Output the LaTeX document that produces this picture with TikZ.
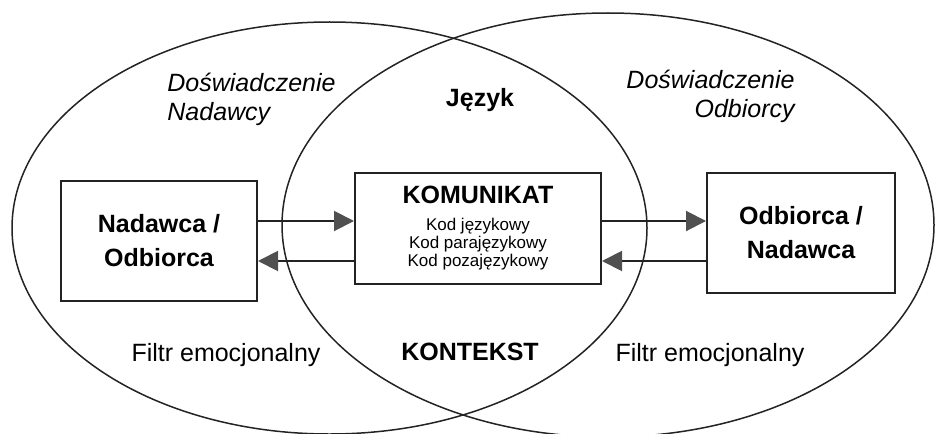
\documentclass[tikz,border=0pt]{standalone}
\usepackage{fontspec}
\setmainfont{Liberation Sans}
\usepackage{xcolor}
\usetikzlibrary{arrows.meta}
\definecolor{inkcol}{RGB}{35,35,35}
\definecolor{tipcol}{RGB}{80,80,80}

\begin{document}
\begin{tikzpicture}[
  x=0.5pt,y=-0.5pt,
  field/.style={draw=inkcol,line width=0.75pt},
  party/.style={rectangle,draw=inkcol,line width=1pt,inner sep=0pt,
                align=center,font=\fontsize{12.5}{17}\selectfont\bfseries},
  msgbox/.style={party,font=\fontsize{8.5}{9}\selectfont\mdseries},
  flow/.style={draw=inkcol,line width=1pt,
               -{Triangle[length=10pt,width=10pt,color=tipcol]}},
  note/.style={inner sep=0pt,font=\fontsize{12.5}{14.5}\selectfont},
  key/.style={inner sep=0pt,font=\fontsize{12.5}{15}\selectfont\bfseries}
]
\useasboundingbox (0,0) rectangle (935,433);
\clip (0,0) rectangle (935,433);
% fields of experience
\draw[field] (329.5,228) ellipse [x radius=158.75pt,y radius=103pt];
\draw[field] (608,225) ellipse [x radius=163pt,y radius=106pt];
% boxes
\node[party,minimum width=98pt,minimum height=60pt] (nadawca) at (159,241)
  {Nadawca /\\Odbiorca};
\node[msgbox,minimum width=123pt,minimum height=55.5pt] (komunikat) at (478,228.5)
  {{\fontsize{12.5}{15}\selectfont\bfseries KOMUNIKAT}\\[4.5pt]
   Kod językowy\\Kod parajęzykowy\\Kod pozajęzykowy};
\node[party,minimum width=94pt,minimum height=60pt] (odbiorca) at (801,233)
  {Odbiorca /\\Nadawca};
% arrows
\coordinate (up) at (0,221);
\coordinate (dn) at (0,261);
\draw[flow] (nadawca.east |- up) -- (komunikat.west |- up);
\draw[flow] (komunikat.west |- dn) -- (nadawca.east |- dn);
\draw[flow] (komunikat.east |- up) -- (odbiorca.west |- up);
\draw[flow] (odbiorca.west |- dn) -- (komunikat.east |- dn);
% labels
\node[note,font=\fontsize{12.5}{14.5}\selectfont\itshape,anchor=base west,align=left]
  (doswN) at (167,120) {Doświadczenie\\Nadawcy};
\node[note,font=\fontsize{12.5}{14.5}\selectfont\itshape,anchor=base east,align=right]
  (doswO) at (795,118) {Doświadczenie\\Odbiorcy};
\node[key,anchor=base] (jezyk) at (480,106) {Język};
\node[key,anchor=base] (kontekst) at (470,360) {KONTEKST};
\node[note,anchor=base] (filtrN) at (226,361) {Filtr emocjonalny};
\node[note,anchor=base] (filtrO) at (710,361) {Filtr emocjonalny};
\end{tikzpicture}
\end{document}
